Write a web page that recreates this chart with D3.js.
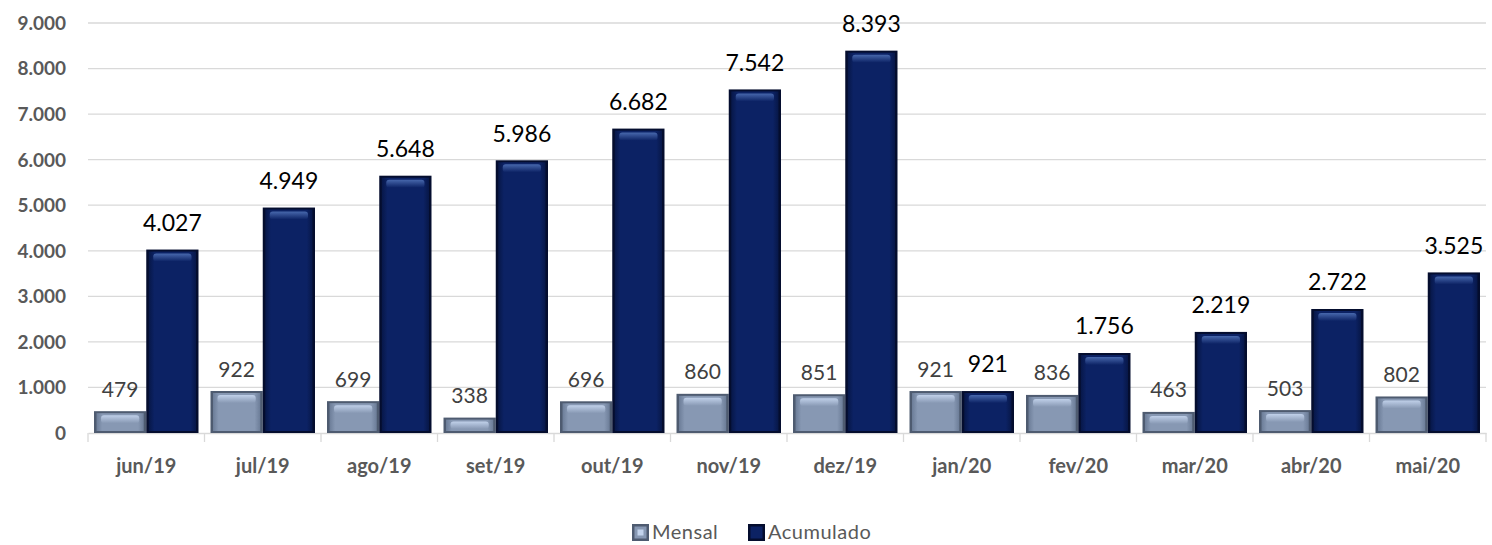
<!DOCTYPE html>
<html>
<head>
<meta charset="utf-8">
<script src="https://cdn.jsdelivr.net/npm/d3@7"></script>
<style>
  body { margin: 0; background: #fff; }
  svg { display: block; font-family: Lato, "Open Sans", sans-serif; }
</style>
</head>
<body>
<svg id="chart"></svg>
<script>
// chart data
const months = ['jun/19', 'jul/19', 'ago/19', 'set/19', 'out/19', 'nov/19', 'dez/19', 'jan/20', 'fev/20', 'mar/20', 'abr/20', 'mai/20'];
const mensal = [479, 922, 699, 338, 696, 860, 851, 921, 836, 463, 503, 802];
const acumulado = [4027, 4949, 5648, 5986, 6682, 7542, 8393, 921, 1756, 2219, 2722, 3525];
const yTicks = [0, 1000, 2000, 3000, 4000, 5000, 6000, 7000, 8000, 9000];
const seriesNames = ['Mensal', 'Acumulado'];

const width = 1492, height = 545;
const margin = {top: 23, right: 6, bottom: 112, left: 88};

const svg = d3.select('#chart')
    .attr('width', width)
    .attr('height', height);

const ptBR = d3.formatLocale({decimal: ',', thousands: '.', grouping: [3], currency: ['R$', '']});
const fmt = ptBR.format(',d');

const x = d3.scaleBand()
    .domain(months)
    .range([margin.left, width - margin.right])
    .paddingInner(0)
    .paddingOuter(0);

const x1 = d3.scaleBand()
    .domain(seriesNames)
    .range([0, x.bandwidth()])
    .paddingOuter(0.115)
    .paddingInner(0);

const y = d3.scaleLinear()
    .domain([0, 9000])
    .range([height - margin.bottom, margin.top]);

// colours for the bevelled bars
const style = {
    Mensal:    {edge: '#4e5b70', face: '#8798b3', side: '#6c7d98', light: '#c3d3ec'},
    Acumulado: {edge: '#040d2e', face: '#0c2264', side: '#071748', light: '#4a6bb0'}
};

const defs = svg.append('defs');
seriesNames.forEach(name => {
    const s = style[name];
    const g = defs.append('linearGradient')
        .attr('id', 'face-' + name)
        .attr('x1', 0).attr('x2', 1).attr('y1', 0).attr('y2', 0);
    g.append('stop').attr('offset', '0%').attr('stop-color', s.side);
    g.append('stop').attr('offset', '12%').attr('stop-color', s.face);
    g.append('stop').attr('offset', '88%').attr('stop-color', s.face);
    g.append('stop').attr('offset', '100%').attr('stop-color', s.side);

    const h = defs.append('linearGradient')
        .attr('id', 'hl-' + name)
        .attr('x1', 0).attr('x2', 0).attr('y1', 0).attr('y2', 1);
    h.append('stop').attr('offset', '0%').attr('stop-color', s.light).attr('stop-opacity', 0.95);
    h.append('stop').attr('offset', '100%').attr('stop-color', s.light).attr('stop-opacity', 0);
});

// gridlines + y labels
const grid = svg.append('g');
grid.selectAll('line')
    .data(yTicks.filter(d => d > 0))
    .join('line')
    .attr('x1', margin.left)
    .attr('x2', width - margin.right)
    .attr('y1', d => y(d))
    .attr('y2', d => y(d))
    .attr('stroke', '#d9d9d9')
    .attr('stroke-width', 1.3);

svg.append('g')
    .selectAll('text')
    .data(yTicks)
    .join('text')
    .attr('x', 66)
    .attr('y', d => y(d))
    .attr('dy', '0.36em')
    .attr('text-anchor', 'end')
    .attr('fill', '#595959')
    .style('font-size', '19px')
    .style('font-weight', 'bold')
    .text(d => fmt(d));

// x axis
const xAxis = d3.axisBottom(x)
    .tickSize(0)
    .tickPadding(26);

const gx = svg.append('g')
    .attr('transform', `translate(0,${y(0)})`)
    .call(xAxis);
gx.select('.domain').attr('stroke', '#d9d9d9').attr('stroke-width', 1.3);
gx.selectAll('.tick text')
    .attr('fill', '#595959')
    .style('font-size', '20px')
    .style('font-weight', 'bold')
    .style('font-family', 'Lato, "Open Sans", sans-serif');

// category separators
svg.append('g')
    .selectAll('line')
    .data(months.concat(['end']))
    .join('line')
    .attr('x1', (d, i) => margin.left + i * x.bandwidth())
    .attr('x2', (d, i) => margin.left + i * x.bandwidth())
    .attr('y1', y(0))
    .attr('y2', y(0) + 9)
    .attr('stroke', '#d9d9d9')
    .attr('stroke-width', 1.3);

// bars
const rows = months.map((m, i) => ({
    month: m,
    values: [
        {series: 'Mensal', value: mensal[i]},
        {series: 'Acumulado', value: acumulado[i]}
    ]
}));

const groups = svg.append('g')
    .selectAll('g')
    .data(rows)
    .join('g')
    .attr('transform', d => `translate(${x(d.month)},0)`);

const bar = groups.selectAll('g.bar')
    .data(d => d.values)
    .join('g')
    .attr('class', 'bar');

bar.append('rect')
    .attr('x', d => x1(d.series))
    .attr('y', d => y(d.value))
    .attr('width', x1.bandwidth())
    .attr('height', d => y(0) - y(d.value))
    .attr('fill', d => style[d.series].edge);

bar.append('rect')
    .attr('x', d => x1(d.series) + 2.5)
    .attr('y', d => y(d.value) + 2)
    .attr('width', x1.bandwidth() - 5)
    .attr('height', d => Math.max(0, y(0) - y(d.value) - 4))
    .attr('fill', d => `url(#face-${d.series})`);

bar.append('rect')
    .attr('x', d => x1(d.series) + 7)
    .attr('y', d => y(d.value) + 4)
    .attr('width', x1.bandwidth() - 14)
    .attr('height', d => Math.max(0, Math.min(8, y(0) - y(d.value) - 8)))
    .attr('rx', 3)
    .attr('fill', d => `url(#hl-${d.series})`);

// value labels
bar.append('text')
    .attr('x', d => x1(d.series) + x1.bandwidth() / 2)
    .attr('y', d => y(d.value) - (d.series === 'Mensal' ? 22 : 27))
    .attr('dy', '0.36em')
    .attr('text-anchor', 'middle')
    .attr('fill', d => d.series === 'Mensal' ? '#404040' : '#000')
    .style('font-size', d => d.series === 'Mensal' ? '21px' : '23px')
    .text(d => fmt(d.value));

// legend
const legendItems = [
    {name: 'Mensal', x: 632},
    {name: 'Acumulado', x: 748}
];
const legend = svg.append('g')
    .selectAll('g')
    .data(legendItems)
    .join('g')
    .attr('transform', d => `translate(${d.x},524)`);

legend.append('rect')
    .attr('width', 17).attr('height', 17)
    .attr('fill', d => style[d.name].edge);
legend.append('rect')
    .attr('x', 2.5).attr('y', 2.5)
    .attr('width', 12).attr('height', 12)
    .attr('fill', d => style[d.name].face);
legend.filter(d => d.name === 'Mensal').append('rect')
    .attr('x', 5.5).attr('y', 5.5)
    .attr('width', 6).attr('height', 6)
    .attr('fill', d => style[d.name].light);
legend.append('text')
    .attr('x', 20)
    .attr('y', 8.5)
    .attr('dy', '0.34em')
    .attr('fill', '#595959')
    .style('font-size', '20px')
    .style('letter-spacing', '0.5px')
    .text(d => d.name);
</script>
</body>
</html>
